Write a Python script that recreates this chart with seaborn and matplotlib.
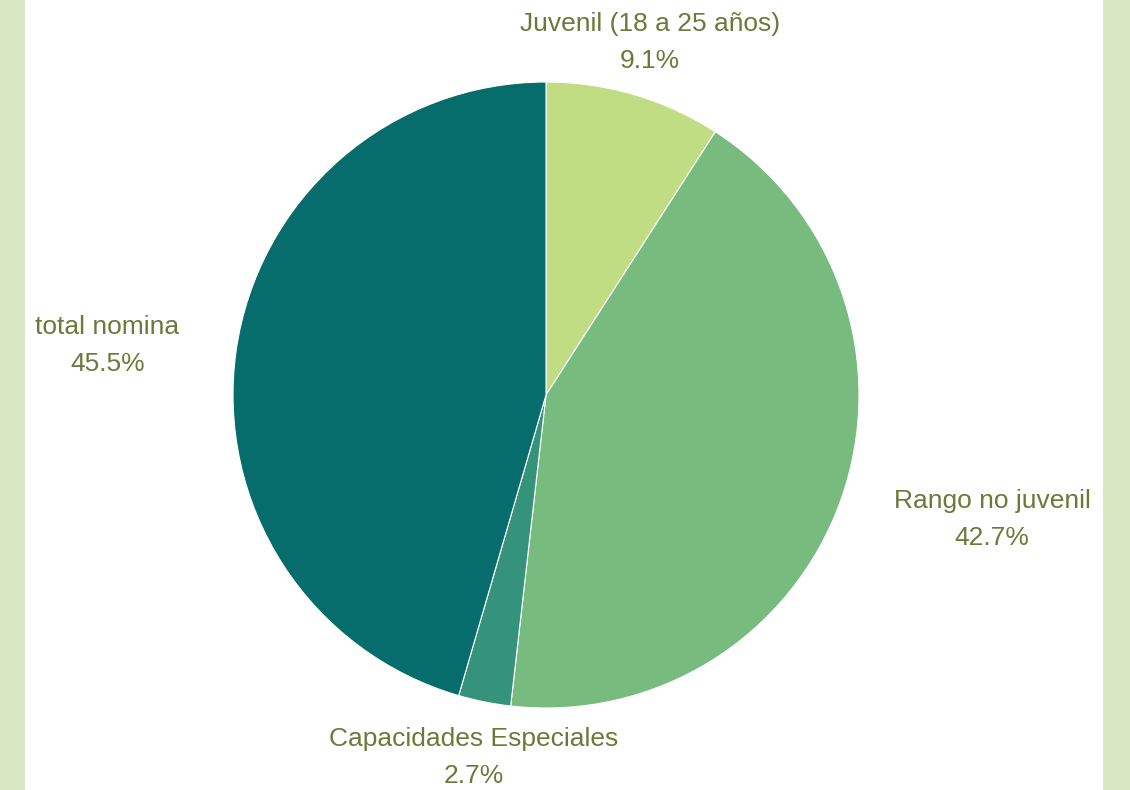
import numpy as np
import matplotlib
matplotlib.use("Agg")
import matplotlib.pyplot as plt
import seaborn as sns
from matplotlib.patches import Rectangle

sns.set_theme(style="white")
plt.rcParams['font.family'] = ['Liberation Sans', 'DejaVu Sans']

categories = ["Juvenil (18 a 25 años)", "Rango no juvenil", "Capacidades Especiales", "total nomina"]
values = [9.1, 42.7, 2.7, 45.5]
colors = ["#c0dd84", "#77bb7f", "#36937b", "#066d6c"]
label_dist = [1.175, 1.48, 1.18, 1.41]
label_ang_shift = [0.0, 4.0, 0.0, 1.6]
text_color = "#6b7a3a"

fig = plt.figure(figsize=(11.3, 7.9), dpi=100)
fig.patch.set_facecolor("white")
fig.patches.append(Rectangle((0, 0), 25/1130, 1, transform=fig.transFigure,
                             facecolor="#d9e8c3", edgecolor="none", zorder=0))
fig.patches.append(Rectangle((1103/1130, 0), 27/1130, 1, transform=fig.transFigure,
                             facecolor="#d9e8c3", edgecolor="none", zorder=0))

ax = fig.add_axes([0, 0, 1, 1])
ax.set_facecolor("none")
wedges, _ = ax.pie(values, colors=colors, startangle=90, counterclock=False,
                   wedgeprops=dict(edgecolor="white", linewidth=0.8))
r = 313.0
ax.set_xlim(-546/r, (1130-546)/r)
ax.set_ylim(-395/r, 395/r)
ax.set_aspect('equal', adjustable='datalim')
ax.axis('off')

total = sum(values)
for w, cat, v, d, s in zip(wedges, categories, values, label_dist, label_ang_shift):
    ang = np.deg2rad((w.theta1 + w.theta2) / 2 + s)
    x, y = d * np.cos(ang), d * np.sin(ang)
    ax.text(x, y, f"{cat}\n{v/total*100:.1f}%", ha="center", va="center",
            fontsize=19, color=text_color, linespacing=1.68)

fig.savefig("out.png", dpi=100, facecolor="white")
